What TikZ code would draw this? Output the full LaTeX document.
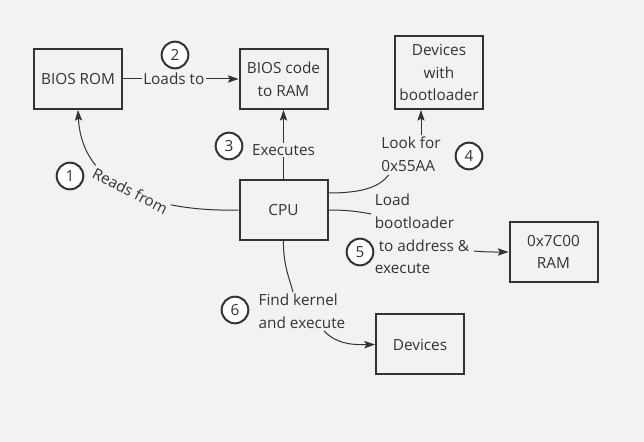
\documentclass[tikz,border=0pt]{standalone}
\usepackage{fontspec}
\setmainfont{Open Sans}
\usetikzlibrary{arrows.meta,positioning,calc}
\definecolor{bg}{HTML}{F2F2F2}
\definecolor{ink}{HTML}{333333}

\begin{document}
\begin{tikzpicture}[x=0.75pt, y=-0.75pt,
    font=\fontsize{11.5}{17}\selectfont, text=ink,
    >={Stealth[length=8pt,width=5.5pt,inset=1.5pt]},
    box/.style={draw=ink, line width=1.5pt, minimum width=66pt, minimum height=45pt, align=center, inner sep=1pt},
    badge/.style={draw=ink, line width=1.5pt, fill=white, circle, minimum size=20pt, inner sep=0pt},
    lbl/.style={fill=bg, inner sep=1pt, align=left},
    link/.style={draw=ink, line width=0.75pt}]
    \fill[bg] (0,0) rectangle (644,442);

    \node (rom) [box] at (78,79) {BIOS ROM};
    \node (ramcode) [box] at (283.5,79) {BIOS code\\to RAM};
    \node (devboot) [box, minimum height=54.75pt] at (439,72.5) {Devices\\with\\bootloader};
    \node (cpu) [box] at (283.5,210) {CPU};
    \node (ram7c) [box] at (553.5,252) {0x7C00\\RAM};
    \node (devices) [box] at (420,344.5) {Devices};

    \node (lookfor) [lbl] at (411,154) {Look for\\0x55AA};
    \node (loadbl) [lbl] at (422,234) {Load\\bootloader\\\ to address \&\\execute};
    \node (findk) [lbl] at (302,311) {Find kernel\\and execute};

    \node (b1) [badge] at (70,176) {1};
    \node (b2) [badge] at (175,55) {2};
    \node (b3) [badge] at (229,146) {3};
    \node (b4) [badge] at (469,156) {4};
    \node (b5) [badge] at (360,252) {5};
    \node (b6) [badge] at (235,310) {6};

    \draw[link,->] (rom) -- node[lbl, pos=0.44] {Loads to} (ramcode);
    \draw[link,->] (cpu) -- node[lbl, pos=0.42] {Executes} (ramcode);
    \draw[link,->] (cpu.west) .. controls (160,212) and (82,190) .. node[lbl, sloped] {Reads from} (rom.south);

    \draw[link] ([shift={(0,-17)}]cpu.east) .. controls (365,193) and (380,186) .. ([shift={(9,2)}]lookfor.south west);
    \draw[link,->] ([shift={(10,0)}]lookfor.north) -- ([shift={(10,0)}]lookfor.north |- devboot.south);

    \draw[link] (cpu.east) .. controls (350,210) and (360,212) .. ([shift={(-2,-20)}]loadbl.west);
    \draw[link,->] ([shift={(3,17)}]loadbl.east) to[out=-5,in=180] (ram7c.west);

    \draw[link] (cpu.south) .. controls (283,265) and (290,280) .. ([shift={(-9,0)}]findk.north);
    \draw[link,->] ([shift={(22,1)}]findk.south) .. controls (335,343) and (350,345) .. (devices.west);
\end{tikzpicture}
\end{document}
